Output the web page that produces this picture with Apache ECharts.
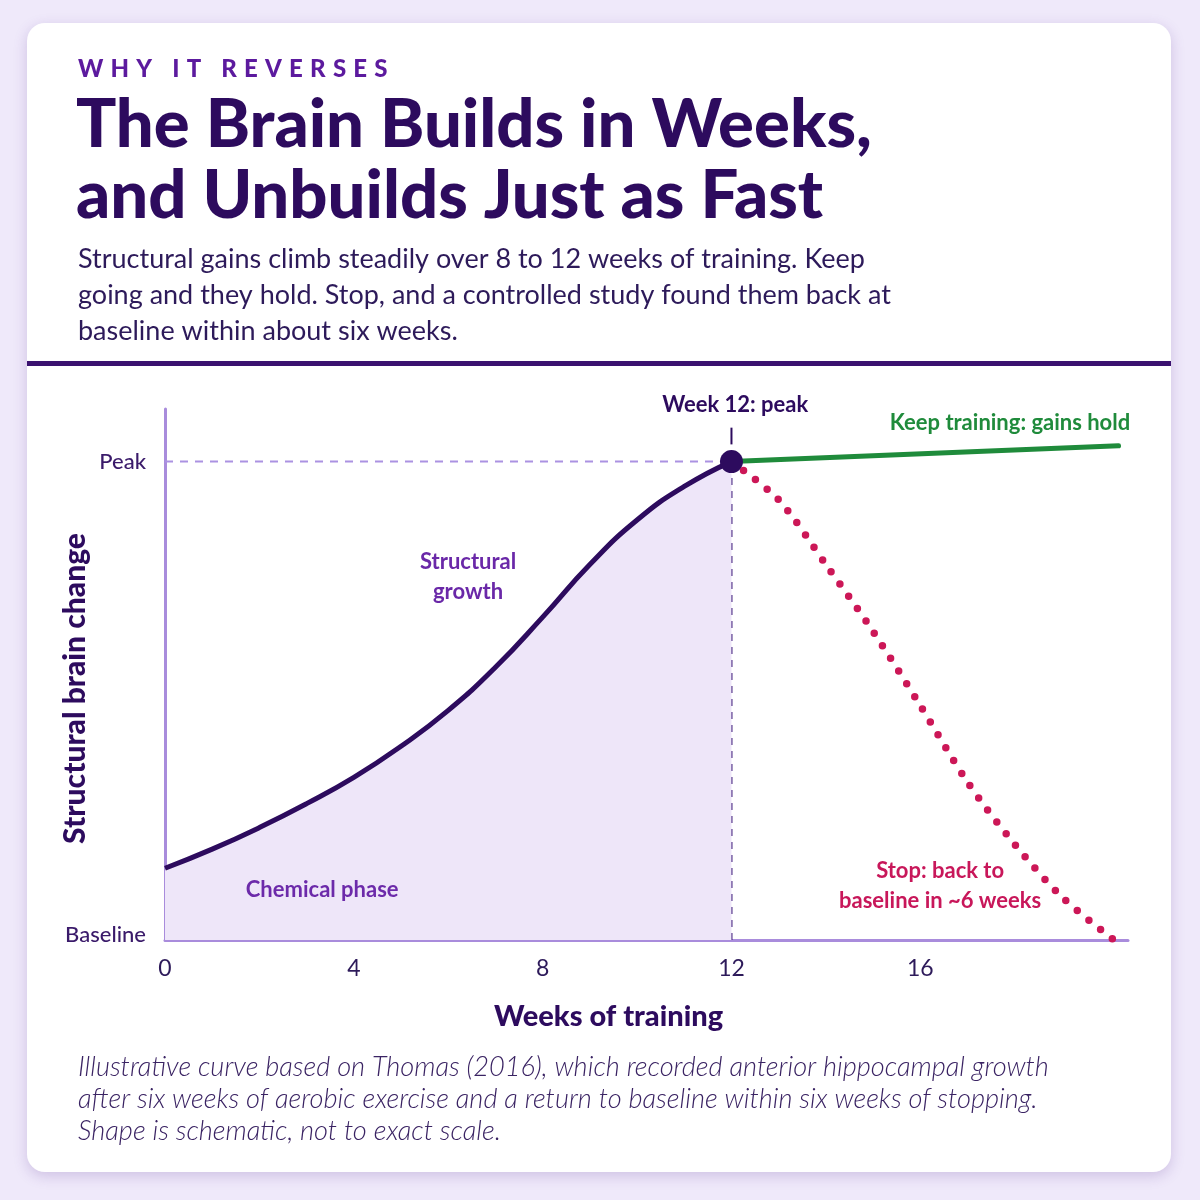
<!DOCTYPE html>
<html>
<head>
<meta charset="utf-8" />
<script src="https://cdn.jsdelivr.net/npm/echarts@6/dist/echarts.min.js"></script>
<style>
  html, body { margin: 0; padding: 0; background: #efe9fa; }
  #chart { width: 1200px; height: 1200px; }
</style>
</head>
<body>
<div id="chart"></div>
<script>
// weeks of training vs structural change (0 = baseline, 1 = peak)
var growthWeeks = [0, 1, 2, 3, 4, 5, 6, 7, 8, 9, 10, 11, 12];
var growthValues = [0.15, 0.19, 0.235, 0.285, 0.34, 0.405, 0.48, 0.57, 0.675, 0.785, 0.878, 0.948, 1.0];

var holdWeeks = [12, 20.2];
var holdValues = [1.0, 1.033];

var stopWeeks = [12, 13, 14, 15, 16, 17, 18, 19, 20.1];
var stopValues = [1.0, 0.92, 0.785, 0.645, 0.49, 0.33, 0.2, 0.09, 0];

var xTicks = [0, 4, 8, 12, 16];
var yTickNames = { 0: 'Baseline', 1: 'Peak' };

var peakWeek = 12;
var peakValue = 1;

function pairs(xs, ys) {
  return xs.map(function (x, i) { return [x, ys[i]]; });
}

var dark = '#2d0b5e';
var mid = '#6a28a8';
var axisCol = '#a98cdc';
var font = 'Lato';

var chart = echarts.init(document.getElementById('chart'));

function note(x, y, text, color) {
  return {
    value: [x, y],
    label: {
      show: true, position: 'inside', formatter: text, color: color, opacity: 1,
      fontFamily: font, fontWeight: 'bold', fontSize: 22, lineHeight: 30, align: 'center'
    }
  };
}

var kicker = 'WHY IT REVERSES'.split('').join(' \u200A');

var option = {
  backgroundColor: '#efe9fa',
  animation: false,
  graphic: [
    {
      type: 'rect', z: -10, silent: true,
      shape: { x: 27, y: 23, width: 1144, height: 1149, r: 18 },
      style: { fill: '#ffffff', shadowBlur: 14, shadowColor: 'rgba(90,50,150,0.22)', shadowOffsetY: 4 }
    },
    {
      type: 'rect', z: -5, silent: true,
      shape: { x: 27, y: 361, width: 1144, height: 5 },
      style: { fill: '#3b1270' }
    },
    {
      type: 'text', left: 78, top: 57,
      style: { text: kicker, fill: '#5c1a9e', font: '900 24px Lato' }
    },
    {
      type: 'text', left: 76, top: 90,
      style: { text: 'The Brain Builds in Weeks,\nand Unbuilds Just as Fast', fill: dark, font: '900 67px Lato', lineHeight: 71 }
    },
    {
      type: 'text', left: 78, top: 241,
      style: {
        text: 'Structural gains climb steadily over 8 to 12 weeks of training. Keep\ngoing and they hold. Stop, and a controlled study found them back at\nbaseline within about six weeks.',
        fill: '#2d1a5a', font: '400 27px Lato', lineHeight: 36
      }
    },
    {
      type: 'text', left: 78, top: 1051,
      style: {
        text: 'Illustrative curve based on Thomas (2016), which recorded anterior hippocampal growth\nafter six weeks of aerobic exercise and a return to baseline within six weeks of stopping.\nShape is schematic, not to exact scale.',
        fill: '#3a2363', font: 'italic 300 27.2px Lato', lineHeight: 32
      }
    }
  ],
  grid: { left: 165, right: 72, top: 409, bottom: 260, containLabel: false },
  xAxis: {
    type: 'value', min: 0, max: 20.4, interval: 4,
    name: 'Weeks of training', nameLocation: 'middle', nameGap: 62,
    nameTextStyle: { color: dark, fontFamily: font, fontWeight: 900, fontSize: 29, padding: [0, 76, 0, 0] },
    axisLine: { show: true, lineStyle: { color: axisCol, width: 3 } },
    axisTick: { show: false },
    splitLine: { show: false },
    axisLabel: {
      color: '#2d1a5a', fontFamily: font, fontSize: 23, margin: 17, showMaxLabel: false,
      formatter: function (v) { return xTicks.indexOf(v) >= 0 ? String(v) : ''; }
    }
  },
  yAxis: {
    type: 'value', min: 0, max: 1.11, interval: 1,
    name: 'Structural brain change', nameLocation: 'middle', nameGap: 75, nameRotate: 90,
    nameMoveOverlap: false,
    nameTextStyle: { color: dark, fontFamily: font, fontWeight: 900, fontSize: 30, padding: [0, 28, 0, 0] },
    axisLine: { show: true, lineStyle: { color: axisCol, width: 3 } },
    axisTick: { show: false },
    splitLine: { show: false },
    axisLabel: {
      color: '#3a1a6a', fontFamily: font, fontSize: 22, fontWeight: 500, margin: 19, showMaxLabel: false,
      formatter: function (v) {
        if (v === 0) return '{b|' + yTickNames[0] + '}';
        if (v === 1) return '{p|' + yTickNames[1] + '}';
        return '';
      },
      rich: {
        p: { color: '#3a1a6a', fontFamily: font, fontSize: 22, fontWeight: 500 },
        b: { color: '#3a1a6a', fontFamily: font, fontSize: 22, fontWeight: 500, padding: [0, 0, 10, 0] }
      }
    }
  },
  series: [
    {
      name: 'growth', type: 'line', data: pairs(growthWeeks, growthValues),
      smooth: 0.5, smoothConstraint: false, symbol: 'none', z: 3,
      lineStyle: { color: dark, width: 5 },
      areaStyle: { color: '#eee6f9', opacity: 1, origin: 'start' }
    },
    {
      name: 'peakRef', type: 'line', data: [[0, peakValue], [peakWeek, peakValue]],
      symbol: 'none', z: 2, silent: true,
      lineStyle: { color: '#ab92e2', width: 2, type: [8, 7] }
    },
    {
      name: 'peakDrop', type: 'line', data: [[peakWeek, 0], [peakWeek, peakValue]],
      symbol: 'none', z: 2, silent: true,
      lineStyle: { color: '#3d1a7a', width: 2, type: [7, 6] }
    },
    {
      name: 'peakTick', type: 'line', data: [[peakWeek, 1.036], [peakWeek, 1.071]],
      symbol: 'none', z: 2, silent: true, clip: false,
      lineStyle: { color: dark, width: 2 }
    },
    {
      name: 'hold', type: 'line', data: pairs(holdWeeks, holdValues),
      symbol: 'none', z: 4, clip: false,
      lineStyle: { color: '#1f8b3b', width: 5, cap: 'round' }
    },
    {
      name: 'stop', type: 'line', data: pairs(stopWeeks, stopValues),
      smooth: 0.3, symbol: 'none', z: 4,
      lineStyle: { color: '#cc1757', width: 7.5, type: [0, 15], cap: 'round' }
    },
    {
      name: 'peakDot', type: 'scatter', data: [[peakWeek, peakValue]],
      symbolSize: 23, z: 6, itemStyle: { color: dark, opacity: 1 }
    },
    {
      name: 'notes', type: 'scatter', symbolSize: 0, z: 7, clip: false, silent: true,
      itemStyle: { opacity: 1 },
      data: [
        note(6.42, 0.759, 'Structural\ngrowth', mid),
        note(3.33, 0.105, 'Chemical phase', '#6c2aaa'),
        note(12.08, 1.118, 'Week 12: peak', dark),
        note(17.9, 1.081, 'Keep training: gains hold', '#1f8b3b'),
        note(16.42, 0.113, 'Stop: back to\nbaseline in ~6 weeks', '#c8175a')
      ]
    }
  ]
};

chart.setOption(option);
</script>
</body>
</html>
